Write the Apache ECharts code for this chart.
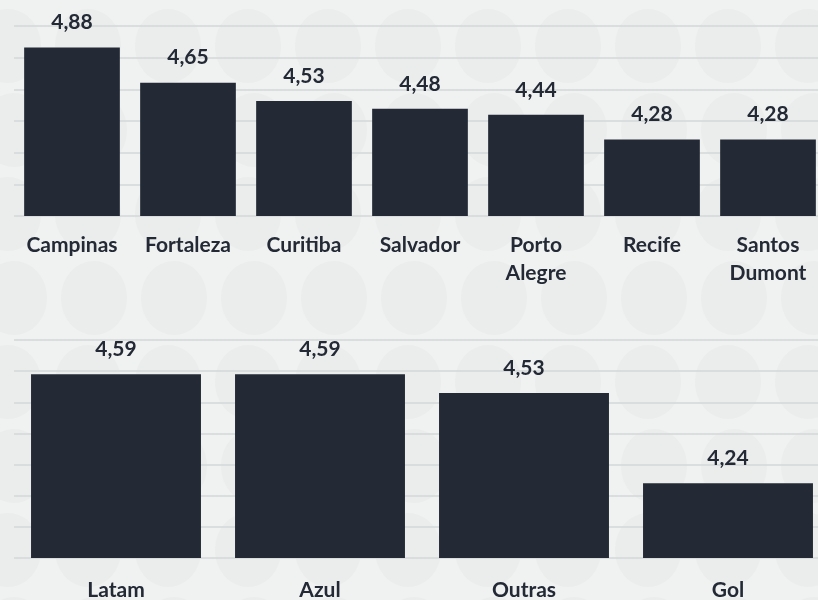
<!DOCTYPE html>
<html>
<head>
<meta charset="utf-8">
<title>Satisfação geral</title>
<script src="https://cdn.jsdelivr.net/npm/echarts@6/dist/echarts.min.js"></script>
<style>
    html, body {margin: 0; padding: 0; background: #eff0f0; overflow: hidden;}
    /* a ultima barra passa da borda direita, por isso o div e mais largo que a janela */
    #main {width: 836px; height: 600px;}
</style>
</head>
<body>
<div id="main"></div>
<script>
'use strict';

//aeroportos (grafico de cima)
let airportNames = ['Campinas', 'Fortaleza', 'Curitiba', 'Salvador', 'Porto\nAlegre', 'Recife', 'Santos\nDumont'];
let airportScores = [4.88, 4.65, 4.53, 4.48, 4.44, 4.28, 4.28];

//companhias (grafico de baixo)
let airlineNames = ['Latam', 'Azul', 'Outras', 'Gol'];
let airlineScores = [4.59, 4.59, 4.53, 4.24];

let ink = '#232a35';
let font = 'Lato';

//4.88 -> 4,88
function fmt(p) {
    return p.value.toFixed(2).replace('.', ',');
}

let valueLabel = {
    show: true,
    position: 'top',
    distance: 15,
    formatter: fmt,
    color: ink,
    fontFamily: font,
    fontWeight: 'bold',
    fontSize: 21,
    lineHeight: 20
};

function catLabel(margin) {
    return {
        interval: 0,
        margin: margin,
        color: ink,
        fontFamily: font,
        fontWeight: 'bold',
        fontSize: 21,
        lineHeight: 28
    };
}

let gridLine = {
    show: true,
    lineStyle: {color: '#d5d7d7', width: 1.5}
};

//marca d'agua de bolinhas no fundo
function backdrop() {
    let list = [];
    for (let row = 0; row < 8; row++) {
        for (let col = 0; col < 11; col++) {
            list.push({
                type: 'ellipse',
                z: -10,
                silent: true,
                shape: {cx: 8 + col * 80 + (row % 2) * 6, cy: 46 + row * 84, rx: 33, ry: 37},
                style: {fill: '#ebeded'}
            });
        }
    }
    return list;
}

let myChart = echarts.init(document.getElementById('main'), null, {renderer: 'canvas'});

let option = {
    backgroundColor: '#f0f1f1',
    animation: false,
    graphic: backdrop(),
    //outerBoundsMode none: nao deixar o v6 encolher a grade por causa dos rotulos
    grid: [
        {left: 14, top: 26, width: 812, height: 190, outerBoundsMode: 'none'},
        {left: 14, top: 340, width: 816, height: 218, outerBoundsMode: 'none'}
    ],
    xAxis: [
        {
            type: 'category', gridIndex: 0, data: airportNames,
            axisLine: {show: false}, axisTick: {show: false}, axisLabel: catLabel(15)
        },
        {
            type: 'category', gridIndex: 1, data: airlineNames,
            axisLine: {show: false}, axisTick: {show: false}, axisLabel: catLabel(18)
        }
    ],
    yAxis: [
        //so as linhas de grade do grafico de cima
        {
            type: 'value', gridIndex: 0, min: 0, max: 6, interval: 1,
            axisLabel: {show: false}, axisLine: {show: false}, axisTick: {show: false},
            splitLine: gridLine
        },
        //escala das barras de cima
        {
            type: 'value', gridIndex: 0, min: 3.78, max: 5.02, show: false,
            splitLine: {show: false}
        },
        {
            type: 'value', gridIndex: 1, min: 4, max: 4.7, interval: 0.1,
            axisLabel: {show: false}, axisLine: {show: false}, axisTick: {show: false},
            splitLine: gridLine
        }
    ],
    series: [
        {
            type: 'bar', xAxisIndex: 0, yAxisIndex: 1,
            data: airportScores,
            barCategoryGap: '17.5%',
            itemStyle: {color: ink},
            label: valueLabel
        },
        {
            type: 'bar', xAxisIndex: 1, yAxisIndex: 2,
            data: airlineScores,
            barCategoryGap: '16.7%',
            itemStyle: {color: ink},
            label: valueLabel
        }
    ]
};
myChart.setOption(option);
</script>
</body>
</html>
